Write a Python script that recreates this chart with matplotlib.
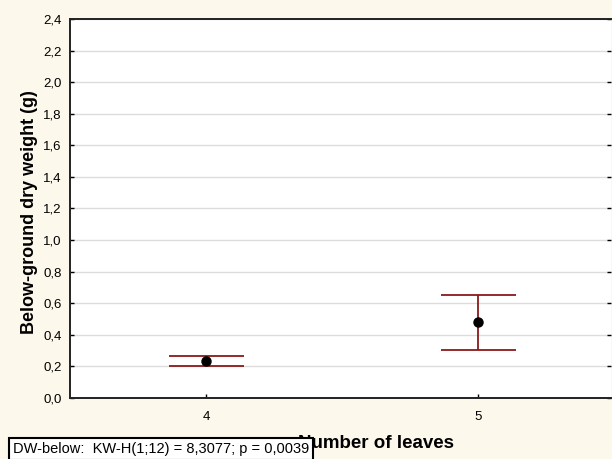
import matplotlib
matplotlib.use("Agg")
import matplotlib.pyplot as plt

plt.rcParams["font.family"] = ["Liberation Sans", "DejaVu Sans"]

leaves = [4, 5]
means = [0.234, 0.482]
upper = [0.266, 0.650]
lower = [0.200, 0.302]
y_ticks = [0.0, 0.2, 0.4, 0.6, 0.8, 1.0, 1.2, 1.4, 1.6, 1.8, 2.0, 2.2, 2.4]
stat_text = "DW-below:  KW-H(1;12) = 8,3077; p = 0,0039"

bg = "#fdf8ec"
err_color = "#8b1a1a"

W, H = 612, 459
fig = plt.figure(figsize=(W / 100, H / 100), dpi=100, facecolor=bg)
ax = fig.add_axes([70 / W, 1 - 398 / H, 541 / W, 379 / H])
ax.set_facecolor("white")

err_lo = [m - l for m, l in zip(means, lower)]
err_hi = [u - m for m, u in zip(means, upper)]
ax.errorbar(leaves, means, yerr=[err_lo, err_hi], fmt="none",
            ecolor=err_color, elinewidth=1.3, capsize=27, capthick=1.3, zorder=3)
ax.plot(leaves, means, "o", color="black", markersize=6.5, zorder=4)

ax.set_xlim(3.5, 5.49)
ax.set_ylim(0, 2.4)
ax.set_xticks(leaves)
ax.set_xticklabels([str(v) for v in leaves])
ax.set_yticks(y_ticks)
ax.set_yticklabels([f"{v:.1f}".replace(".", ",") for v in y_ticks])
ax.grid(axis="y", color="#dcdcdc", linewidth=1)
ax.set_axisbelow(True)

ax.tick_params(axis="both", direction="in", length=3, width=1, labelsize=9.5,
               colors="black")
ax.tick_params(axis="y", right=True, pad=6)
ax.tick_params(axis="x", pad=9)

for side in ["left", "bottom", "top"]:
  ax.spines[side].set_linewidth(1.4)
  ax.spines[side].set_color("#222222")
ax.spines["right"].set_visible(False)

fig.text(30 / W, 1 - 212 / H, "Below-ground dry weight (g)", fontsize=13,
         fontweight="bold", rotation=90, ha="center", va="center")
fig.text(376 / W, 1 - 444 / H, "Number of leaves", fontsize=13.5,
         fontweight="bold", ha="center", va="center", zorder=1)

fig.text(13 / W, 1 - 449 / H, stat_text, fontsize=10.5, ha="left", va="center",
         zorder=5,
         bbox=dict(boxstyle="square,pad=0.28", facecolor="white",
                   edgecolor="black", linewidth=1.5))

fig.savefig("out.png", dpi=100, facecolor=bg)
